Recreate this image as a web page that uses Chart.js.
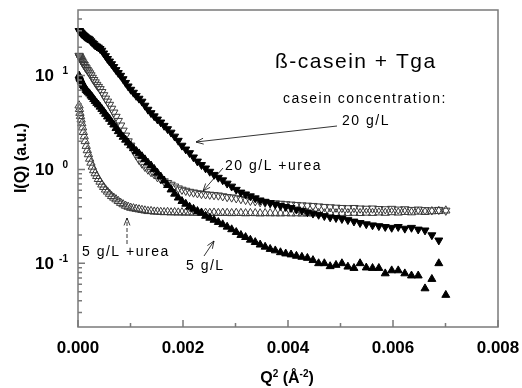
<!DOCTYPE html>
<html>
<head>
<meta charset="utf-8">
<script src="https://cdn.jsdelivr.net/npm/chart.js@4/dist/chart.umd.min.js"></script>
<style>html,body{margin:0;background:#fff}canvas{display:block}</style>
</head>
<body>
<canvas id="chart" width="522" height="388"></canvas>
<script>
// Q^2 values (A^-2), shared by all four curves
const q2 = [0.00002025,0.00002809,0.00003721,0.00004761,0.00005929,0.00007225,0.00008649,0.00010201,0.00011881,0.00013689,
  0.00015625,0.00017689,0.00019881,0.00022201,0.00024649,0.00027225,0.00029929,0.00032761,0.00035721,0.00038809,
  0.00042025,0.00045369,0.00048841,0.00052441,0.00056169,0.00060025,0.00064009,0.00068121,0.00072361,0.00076729,
  0.00081225,0.00085849,0.00090601,0.00095481,0.00100489,0.00105625,0.00110889,0.00116281,0.00121801,0.00127449,
  0.00133225,0.00139129,0.00145161,0.00151321,0.00157609,0.00164025,0.00170569,0.00177241,0.00184041,0.00190969,
  0.00198025,0.00205209,0.00212521,0.00219961,0.00227529,0.00235225,0.00243049,0.00251001,0.00259081,0.00267289,
  0.00275625,0.00284089,0.00292681,0.00301401,0.00310249,0.00319225,0.00328329,0.00337561,0.00346921,0.00356409,
  0.00366025,0.00375769,0.00385641,0.00395641,0.00405769,0.00416025,0.00426409,0.00436921,0.00447561,0.00458329,
  0.00469225,0.00480249,0.00491401,0.00502681,0.00514089,0.00525625,0.00537289,0.00549081,0.00561001,0.00573049,
  0.00585225,0.00597529,0.00609961,0.00622521,0.00635209,0.00648025,0.00660969,0.00674041,0.00687241,0.00700569];

// I(Q), 20 g/L (filled down triangles)
const i20 = [30,30,29.5,29,28.5,28,27.5,27,26.5,26,
  25.5,25,24.8,24.2,23.3,22.5,21.8,21,20.5,20,
  19.3,18.5,17.3,16.2,15.1,14.2,13.3,12.4,11.5,10.7,
  10.0,9.2,8.4,7.7,7.1,6.6,6.1,5.7,5.3,4.8,
  4.35,4.0,3.7,3.42,3.18,2.93,2.7,2.48,2.25,2.03,
  1.8,1.64,1.5,1.35,1.22,1.12,1.03,0.95,0.88,0.82,
  0.77,0.71,0.66,0.61,0.57,0.545,0.52,0.495,0.47,0.455,
  0.44,0.425,0.41,0.40,0.39,0.375,0.365,0.35,0.34,0.33,
  0.32,0.31,0.305,0.298,0.29,0.28,0.27,0.262,0.255,0.25,
  0.245,0.24,0.245,0.235,0.24,0.23,0.225,0.2,0.176,null];

// I(Q), 20 g/L + urea (open down triangles)
const i20urea = [16.3,16.0,15.6,15.2,14.8,14.3,13.9,13.4,13.0,12.4,
  12.0,11.5,11.1,10.6,10.1,9.5,9.0,8.5,8.0,7.6,
  7.2,6.7,6.2,5.7,5.3,4.9,4.45,4.05,3.65,3.3,
  2.95,2.6,2.3,2.0,1.8,1.6,1.42,1.27,1.16,1.07,
  1.0,0.94,0.89,0.83,0.79,0.75,0.72,0.69,0.66,0.63,
  0.61,0.595,0.58,0.57,0.56,0.55,0.545,0.54,0.535,0.53,
  0.52,0.51,0.505,0.495,0.485,0.475,0.465,0.46,0.45,0.445,
  0.44,0.437,0.433,0.428,0.424,0.42,0.416,0.413,0.41,0.405,
  0.40,0.397,0.393,0.39,0.388,0.39,0.385,0.383,0.385,0.38,
  0.378,0.382,0.375,0.378,0.372,0.375,0.37,0.368,0.372,0.365];

// I(Q), 5 g/L (filled up triangles)
const i5 = [10.0,9.7,9.4,9.1,8.8,8.5,8.2,7.9,7.6,7.3,
  7.0,6.8,6.6,6.4,6.1,5.9,5.6,5.35,5.1,4.9,
  4.65,4.4,4.15,3.9,3.65,3.45,3.2,3.0,2.75,2.55,
  2.38,2.22,2.07,1.93,1.8,1.68,1.57,1.48,1.38,1.28,
  1.18,1.1,1.01,0.92,0.84,0.76,0.68,0.61,0.55,0.5,
  0.46,0.43,0.4,0.38,0.36,0.345,0.32,0.305,0.29,0.275,
  0.26,0.245,0.23,0.215,0.2,0.19,0.178,0.168,0.158,0.15,
  0.142,0.137,0.131,0.127,0.124,0.12,0.117,0.114,0.108,0.1,
  0.1,0.093,0.096,0.1,0.092,0.089,0.1,0.09,0.089,0.089,
  0.078,0.084,0.084,0.078,0.074,0.074,0.054,0.068,0.1,0.046];

// I(Q), 5 g/L + urea (open up triangles)
const i5urea = [4.8,4.4,4.0,3.7,3.4,3.1,2.8,2.5,2.25,2.0,
  1.78,1.6,1.45,1.3,1.18,1.07,0.98,0.91,0.85,0.79,
  0.74,0.69,0.65,0.61,0.58,0.55,0.52,0.5,0.48,0.46,
  0.44,0.425,0.41,0.4,0.39,0.385,0.38,0.375,0.37,0.365,
  0.36,0.36,0.355,0.355,0.352,0.35,0.352,0.348,0.35,0.347,
  0.349,0.346,0.348,0.345,0.347,0.346,0.345,0.344,0.346,0.343,
  0.345,0.344,0.342,0.344,0.343,0.341,0.343,0.342,0.34,0.342,
  0.341,0.341,0.34,0.342,0.34,0.341,0.339,0.341,0.34,0.342,
  0.34,0.343,0.341,0.344,0.342,0.345,0.343,0.346,0.344,0.348,
  0.345,0.35,0.347,0.352,0.349,0.355,0.352,0.358,0.36,0.365];

const xMajor = [0, 0.002, 0.004, 0.006, 0.008];
const xLabels = ['0.000', '0.002', '0.004', '0.006', '0.008'];
const xMinor = [0.001, 0.003, 0.005, 0.007];
const yMajor = [0.1, 1, 10];
const yExps = ['-1', '0', '1'];
const yMinor = [0.03,0.04,0.05,0.06,0.07,0.08,0.09,0.2,0.3,0.4,0.5,0.6,0.7,0.8,0.9,2,3,4,5,6,7,8,9,20,30,40];

const FONT = '"Liberation Sans", Arial, sans-serif';

function pts(ys) {
  return q2.map((x, i) => ({x: x, y: ys[i]}));
}

function arrow(ctx, x1, y1, x2, y2, dash) {
  ctx.save();
  ctx.strokeStyle = '#000';
  ctx.lineWidth = 0.8;
  if (dash) ctx.setLineDash(dash);
  ctx.beginPath();
  ctx.moveTo(x1, y1);
  ctx.lineTo(x2, y2);
  ctx.stroke();
  ctx.setLineDash([]);
  const a = Math.atan2(y2 - y1, x2 - x1);
  ctx.beginPath();
  ctx.moveTo(x2 - 8 * Math.cos(a - 0.38), y2 - 8 * Math.sin(a - 0.38));
  ctx.lineTo(x2, y2);
  ctx.lineTo(x2 - 8 * Math.cos(a + 0.38), y2 - 8 * Math.sin(a + 0.38));
  ctx.stroke();
  ctx.restore();
}

const frame = {
  id: 'frame',
  afterDraw(chart) {
    const ctx = chart.ctx;
    const a = chart.chartArea;
    const x = chart.scales.x, y = chart.scales.y;
    ctx.save();
    ctx.strokeStyle = '#7a7a7a';
    ctx.lineWidth = 1.5;
    ctx.strokeRect(a.left, a.top, a.right - a.left, a.bottom - a.top);
    ctx.beginPath();
    xMajor.forEach(v => { const p = x.getPixelForValue(v); ctx.moveTo(p, a.bottom); ctx.lineTo(p, a.bottom - 7); });
    xMinor.forEach(v => { const p = x.getPixelForValue(v); ctx.moveTo(p, a.bottom); ctx.lineTo(p, a.bottom - 4); });
    yMajor.forEach(v => { const p = y.getPixelForValue(v); ctx.moveTo(a.left, p); ctx.lineTo(a.left + 7, p); });
    yMinor.forEach(v => { const p = y.getPixelForValue(v); ctx.moveTo(a.left, p); ctx.lineTo(a.left + 4, p); });
    ctx.stroke();

    ctx.fillStyle = '#000';
    ctx.font = 'bold 17px ' + FONT;
    ctx.textAlign = 'center';
    ctx.textBaseline = 'middle';
    xMajor.forEach((v, i) => ctx.fillText(xLabels[i], x.getPixelForValue(v), a.bottom + 21));
    yMajor.forEach((v, i) => {
      const p = y.getPixelForValue(v);
      ctx.font = 'bold 17px ' + FONT;
      ctx.textAlign = 'right';
      ctx.fillText('10', 54, p + 1);
      ctx.font = 'bold 10px ' + FONT;
      ctx.fillText(yExps[i], 68, p - 4);
    });

    // axis titles
    ctx.font = 'bold 16px ' + FONT;
    ctx.textAlign = 'left';
    const parts = [['Q', 16, 0], ['2', 10, -5], [' (Å', 16, 0], ['-2', 10, -5], [')', 16, 0]];
    let w = 0;
    parts.forEach(t => { ctx.font = 'bold ' + t[1] + 'px ' + FONT; w += ctx.measureText(t[0]).width; });
    let cx = 287 - w / 2;
    parts.forEach(t => {
      ctx.font = 'bold ' + t[1] + 'px ' + FONT;
      ctx.fillText(t[0], cx, 379 + t[2]);
      cx += ctx.measureText(t[0]).width;
    });
    ctx.save();
    ctx.translate(22, 158);
    ctx.rotate(-Math.PI / 2);
    ctx.textAlign = 'center';
    ctx.font = 'bold 16px ' + FONT;
    ctx.fillText('I(Q) (a.u.)', 0, 0);
    ctx.restore();

    // annotations
    ctx.textAlign = 'left';
    ctx.letterSpacing = '1.5px';
    ctx.font = '21px ' + FONT;
    ctx.fillText('ß-casein + Tga', 275, 62);
    ctx.font = '14px ' + FONT;
    ctx.fillText('casein concentration:', 283, 99);
    ctx.fillText('20 g/L', 342, 121);
    ctx.fillText('20 g/L +urea', 225, 166);
    ctx.fillText('5 g/L +urea', 82, 252);
    ctx.fillText('5 g/L', 186, 266);
    ctx.letterSpacing = '0px';
    arrow(ctx, 337, 126, 196, 142);
    arrow(ctx, 223, 168, 203, 191);
    arrow(ctx, 127, 244, 127, 218, [4, 2]);
    arrow(ctx, 204, 256, 214, 241);
    ctx.restore();
  }
};

new Chart(document.getElementById('chart'), {
  type: 'scatter',
  data: {
    datasets: [
      {label: '20 g/L', data: pts(i20), pointStyle: 'triangle', rotation: 180, pointRadius: 4.6,
        backgroundColor: '#000', borderColor: '#000', borderWidth: 1, order: 0, clip: false},
      {label: '5 g/L', data: pts(i5), pointStyle: 'triangle', pointRadius: 4.6,
        backgroundColor: '#000', borderColor: '#000', borderWidth: 1, order: 0, clip: false},
      {label: '20 g/L +urea', data: pts(i20urea), pointStyle: 'triangle', rotation: 180, pointRadius: 4.8,
        backgroundColor: 'rgba(255,255,255,0)', borderColor: '#3a3a3a', borderWidth: 1, order: 1, clip: false},
      {label: '5 g/L +urea', data: pts(i5urea), pointStyle: 'triangle', pointRadius: 4.8,
        backgroundColor: 'rgba(255,255,255,0)', borderColor: '#3a3a3a', borderWidth: 1, order: 1, clip: false}
    ]
  },
  options: {
    responsive: false,
    animation: false,
    layout: {padding: {left: 78, top: 10, right: 24, bottom: 61}},
    plugins: {legend: {display: false}, tooltip: {enabled: false}},
    scales: {
      x: {type: 'linear', display: false, min: 0, max: 0.008},
      y: {type: 'logarithmic', display: false, min: 0.021, max: 50}
    }
  },
  plugins: [frame]
});
</script>
</body>
</html>
